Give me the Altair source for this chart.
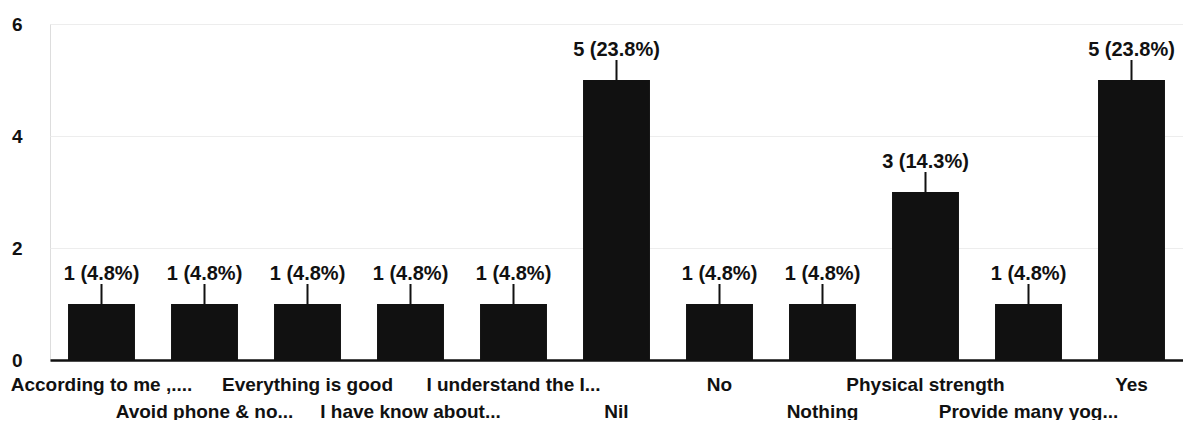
import altair as alt
import pandas as pd

categories = [
    "According to me ,....",
    "Avoid phone & no...",
    "Everything is good",
    "I have know about...",
    "I understand the I...",
    "Nil",
    "No",
    "Nothing",
    "Physical strength",
    "Provide many yog...",
    "Yes",
]
counts = [1, 1, 1, 1, 1, 5, 1, 1, 3, 1, 5]
labels = ["1 (4.8%)", "1 (4.8%)", "1 (4.8%)", "1 (4.8%)", "1 (4.8%)", "5 (23.8%)",
          "1 (4.8%)", "1 (4.8%)", "3 (14.3%)", "1 (4.8%)", "5 (23.8%)"]
y_ticks = [0, 2, 4, 6]

df = pd.DataFrame({"cat": categories, "count": counts, "label": labels})

FONT = "Liberation Sans"

x = alt.X(
    "cat:N",
    sort=categories,
    title=None,
    scale=alt.Scale(paddingInner=0.35, paddingOuter=0.175),
    axis=alt.Axis(
        labelAngle=0,
        labelFont=FONT,
        labelFontSize=19,
        labelFontWeight="bold",
        labelColor="#111",
        labelPadding=15,
        labelLineHeight=27,
        labelOverlap=False,
        labelLimit=400,
        labelExpr="round(datum.index*10) % 2 == 1 ? ['', datum.label] : datum.label",
        ticks=False,
        domainColor="#111",
        domainWidth=2.5,
    ),
)
y = alt.Y(
    "count:Q",
    title=None,
    scale=alt.Scale(domain=[0, 6]),
    axis=alt.Axis(
        values=y_ticks,
        format="d",
        labelFont=FONT,
        labelFontSize=19,
        labelFontWeight="bold",
        labelColor="#111",
        labelPadding=28,
        ticks=False,
        domain=False,
        grid=True,
        gridColor="#ededed",
        gridWidth=1,
    ),
)

base = alt.Chart(df)
bars = base.mark_bar(color="#111111").encode(x=x, y=y)
lead = base.mark_rule(color="#111111", strokeWidth=2, y2Offset=-20).encode(
    x=alt.X("cat:N", sort=categories), y="count:Q", y2="count:Q"
)
text = base.mark_text(
    font=FONT, fontSize=20, fontWeight="bold", color="#111", baseline="bottom", dy=-20
).encode(x=alt.X("cat:N", sort=categories), y="count:Q", text="label:N")

chart = (
    alt.layer(bars, lead, text)
    .properties(
        width=1133,
        height=336,
        autosize=alt.AutoSizeParams(type="none"),
        padding={"left": 42, "top": 16, "right": 0, "bottom": 60},
    )
    .configure_view(stroke=None)
    .configure(background="white")
)

chart.save("out.html", embed_options={"renderer": "svg", "actions": False})
